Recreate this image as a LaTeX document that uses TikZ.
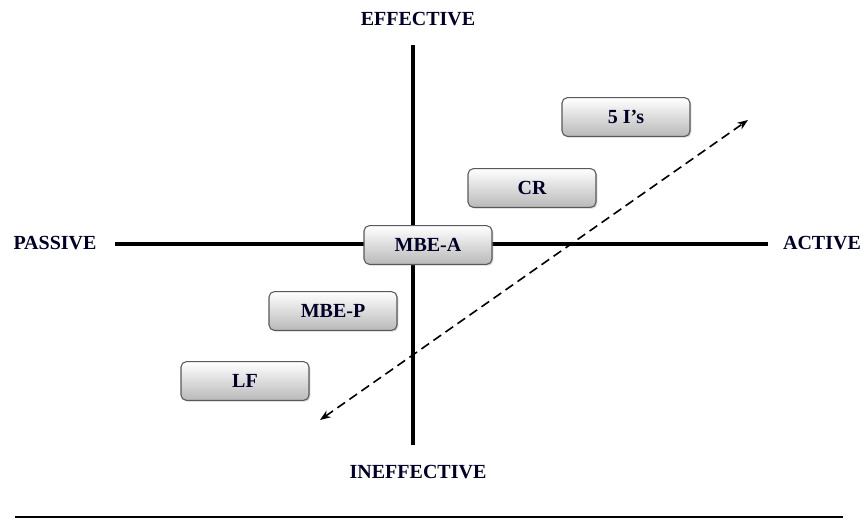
\documentclass[tikz,border=0pt]{standalone}
\usepackage{fontspec}
\setmainfont{Liberation Serif}
\usetikzlibrary{arrows.meta,shadows}
\begin{document}
\begin{tikzpicture}[x=0.75pt,y=-0.75pt,
  lbl/.style={font=\fontsize{15}{17}\selectfont\bfseries, text=black!85!blue},
  stylebox/.style={draw=gray!70!black, line width=0.8pt, rounded corners=4pt,
    minimum width=96pt, minimum height=29pt, top color=white, bottom color=gray!55,
    font=\fontsize{15}{17}\selectfont\bfseries, text=black!85!blue,
    drop shadow={shadow xshift=1pt, shadow yshift=-1pt, opacity=0.35}},
  axis/.style={line width=2.3pt, black},
  trend/.style={line width=1.2pt, dash pattern=on 7pt off 4pt,
    {Stealth[length=8pt,width=6pt]}-{Stealth[length=8pt,width=6pt]}}]
\useasboundingbox (0,0) rectangle (866,519);
% axes
\coordinate (top) at (413,45);
\coordinate (bot) at (413,445);
\coordinate (lft) at (115,244);
\coordinate (rgt) at (768,244);
\draw[axis] (top) -- (bot);
\draw[axis] (lft) -- (rgt);
% axis labels
\node[lbl] (eff) at (418,19) {EFFECTIVE};
\node[lbl] (ineff) at (418,472) {INEFFECTIVE};
\node[lbl] (pas) at (55,243) {PASSIVE};
\node[lbl] (act) at (822,243) {ACTIVE};
% trend arrow
\coordinate (tA) at (320,420);
\coordinate (tB) at (748,120);
\draw[trend] (tA) -- (tB);
% styles
\node[stylebox] (fivei) at (626,117) {5 I's};
\node[stylebox] (cr) at (532,188) {CR};
\node[stylebox] (mbea) at (428,245) {MBE-A};
\node[stylebox] (mbep) at (333,311) {MBE-P};
\node[stylebox] (lf) at (245,381) {LF};
% rule at the foot
\coordinate (r1) at (15,517);
\coordinate (r2) at (843,517);
\draw[line width=1.2pt] (r1) -- (r2);
\end{tikzpicture}
\end{document}
